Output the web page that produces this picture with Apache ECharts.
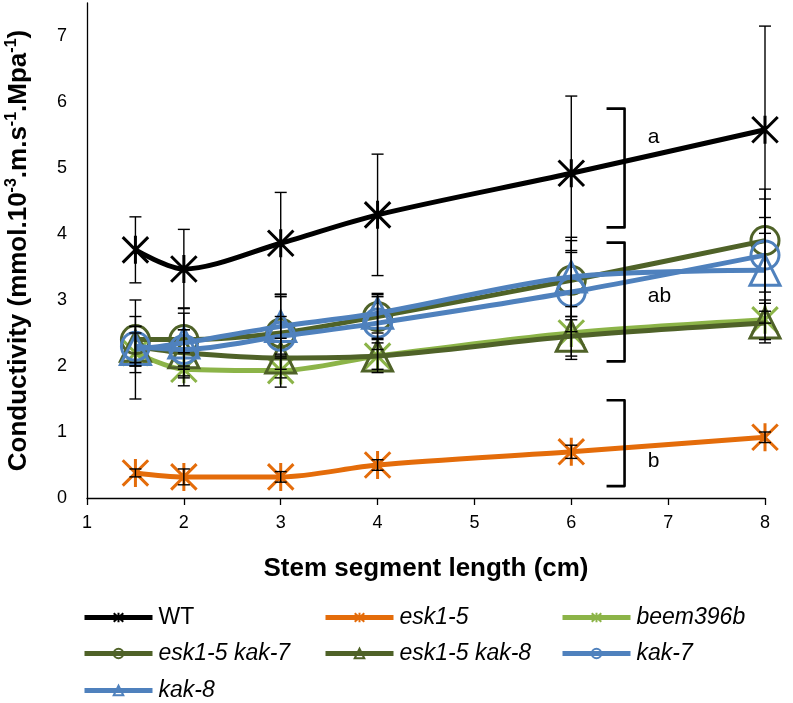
<!DOCTYPE html>
<html>
<head>
<meta charset="utf-8">
<script src="https://cdn.jsdelivr.net/npm/echarts@6/dist/echarts.min.js"></script>
<style>
html,body{margin:0;padding:0;background:#fff;}
#chart{width:793px;height:703px;}
</style>
</head>
<body>
<div id="chart"></div>
<script>
// ---- data ----
const segLengths = [1.5, 2, 3, 4, 6, 8];
const seriesNames = ['WT', 'esk1-5', 'beem396b', 'esk1-5 kak-7', 'esk1-5 kak-8', 'kak-7', 'kak-8'];
const wtMean   = [3.76, 3.47, 3.86, 4.29, 4.92, 5.58];
const wtErr    = [0.50, 0.60, 0.77, 0.92, 1.17, 1.57];
const esk15Mean = [0.38, 0.32, 0.32, 0.50, 0.70, 0.92];
const esk15Err  = [0.06, 0.12, 0.08, 0.08, 0.10, 0.08];
const beemMean = [2.20, 1.95, 1.93, 2.15, 2.50, 2.70];
const beemErr  = [0.30, 0.25, 0.25, 0.25, 0.40, 0.30];
const ek7Mean  = [2.40, 2.40, 2.50, 2.75, 3.30, 3.90];
const ek7Err   = [0.35, 0.40, 0.55, 0.33, 0.60, 0.78];
const ek8Mean  = [2.30, 2.20, 2.12, 2.15, 2.45, 2.65];
const ek8Err   = [0.30, 0.35, 0.30, 0.20, 0.30, 0.30];
const k7Mean   = [2.30, 2.25, 2.45, 2.65, 3.12, 3.68];
const k7Err    = [0.30, 0.30, 0.30, 0.40, 0.60, 0.85];
const k8Mean   = [2.25, 2.35, 2.60, 2.80, 3.35, 3.45];
const k8Err    = [0.75, 0.53, 0.48, 0.30, 0.60, 0.80];
const xTicks = [1, 2, 3, 4, 5, 6, 7, 8];
const yTicks = [0, 1, 2, 3, 4, 5, 6, 7];
// significance brackets: [x, yLow, yHigh], labels [x, y, text]
const bracketX = 6.55;
const brackets = [[bracketX, 4.10, 5.90], [bracketX, 2.07, 3.87], [bracketX, 0.18, 1.48]];
const bracketLabels = [[6.79, 5.47, 'a'], [6.79, 3.05, 'ab'], [6.79, 0.55, 'b']];
// legend layout: [name, column, row]
const legendCells = [
  ['WT', 0, 0], ['esk1-5', 1, 0], ['beem396b', 2, 0],
  ['esk1-5 kak-7', 0, 1], ['esk1-5 kak-8', 1, 1], ['kak-7', 2, 1],
  ['kak-8', 0, 2]
];

// ---- styling ----
const FONT = 'Liberation Sans';
const starPath = 'path://M0 0L20 20M20 0L0 20M10 -1L10 21';
const styles = {
  'WT':           {color: '#000000', symbol: starPath, size: 28},
  'esk1-5':       {color: '#E46C0A', symbol: starPath, size: 28},
  'beem396b':     {color: '#8CB448', symbol: starPath, size: 28},
  'esk1-5 kak-7': {color: '#4F6228', symbol: 'circle', size: 28},
  'esk1-5 kak-8': {color: '#4F6228', symbol: 'triangle', size: 30},
  'kak-7':        {color: '#4F81BD', symbol: 'circle', size: 28},
  'kak-8':        {color: '#4F81BD', symbol: 'triangle', size: 30}
};
const means = [wtMean, esk15Mean, beemMean, ek7Mean, ek8Mean, k7Mean, k8Mean];
const errs  = [wtErr, esk15Err, beemErr, ek7Err, ek8Err, k7Err, k8Err];
const legendColLeft = [82, 323, 560];
const legendRowTop = [606, 642, 679];

const chart = echarts.init(document.getElementById('chart'), null, {renderer: 'canvas'});

const lineSeries = seriesNames.map((name, i) => {
  const st = styles[name];
  return {
    name: name,
    type: 'line',
    smooth: 0.3,
    z: 3 + i,
    symbol: st.symbol,
    symbolSize: st.size,
    symbolKeepAspect: true,
    data: segLengths.map((x, j) => [x, means[i][j]]),
    lineStyle: {color: st.color, width: 5},
    itemStyle: {color: 'rgba(255,255,255,0)', borderColor: st.color, borderWidth: 3},
    emphasis: {disabled: true}
  };
});

const errSeries = seriesNames.map((name, i) => ({
  name: name + ' err',
  type: 'custom',
  z: 20,
  silent: true,
  data: segLengths.map((x, j) => [x, means[i][j] - errs[i][j], means[i][j] + errs[i][j]]),
  encode: {x: 0, y: [1, 2]},
  renderItem: function (params, api) {
    const x = api.value(0);
    const lo = api.coord([x, api.value(1)]);
    const hi = api.coord([x, api.value(2)]);
    const hw = 6;
    const style = {stroke: '#000', lineWidth: 1.4};
    return {
      type: 'group',
      children: [
        {type: 'line', shape: {x1: lo[0], y1: lo[1], x2: hi[0], y2: hi[1]}, style: style},
        {type: 'line', shape: {x1: lo[0] - hw, y1: lo[1], x2: lo[0] + hw, y2: lo[1]}, style: style},
        {type: 'line', shape: {x1: hi[0] - hw, y1: hi[1], x2: hi[0] + hw, y2: hi[1]}, style: style}
      ]
    };
  }
}));

const bracketSeries = {
  type: 'custom',
  z: 30,
  silent: true,
  data: brackets,
  encode: {x: 0, y: [1, 2]},
  renderItem: function (params, api) {
    const lo = api.coord([api.value(0), api.value(1)]);
    const hi = api.coord([api.value(0), api.value(2)]);
    const arm = 18;
    return {
      type: 'polyline',
      shape: {points: [[lo[0] - arm, hi[1]], [lo[0], hi[1]], [lo[0], lo[1]], [lo[0] - arm, lo[1]]]},
      style: {stroke: '#000', lineWidth: 2.6, fill: null, lineJoin: 'round'}
    };
  }
};

const bracketLabelSeries = {
  type: 'custom',
  z: 30,
  silent: true,
  data: bracketLabels,
  encode: {x: 0, y: 1},
  renderItem: function (params, api) {
    const p = api.coord([api.value(0), api.value(1)]);
    return {
      type: 'text',
      x: p[0], y: p[1],
      style: {text: api.value(2), fill: '#000', font: '21px "' + FONT + '"', textAlign: 'left', textVerticalAlign: 'middle'}
    };
  }
};

const richLegend = {
  n: {fontFamily: FONT, fontSize: 23, color: '#000', lineHeight: 24},
  i: {fontFamily: FONT, fontSize: 23, color: '#000', fontStyle: 'italic', lineHeight: 24}
};
const legends = legendCells.map(cell => ({
  orient: 'horizontal',
  left: legendColLeft[cell[1]],
  top: legendRowTop[cell[2]],
  padding: 0,
  itemGap: 0,
  itemWidth: 68,
  itemHeight: 12,
  data: [cell[0]],
  selectedMode: false,
  lineStyle: {width: 5},
  itemStyle: {borderWidth: 2},
  formatter: function (name) { return name === 'WT' ? '{n|' + name + '}' : '{i|' + name + '}'; },
  textStyle: {rich: richLegend, padding: [0, 0, 0, 1]}
}));

const option = {
  animation: false,
  backgroundColor: '#fff',
  textStyle: {fontFamily: FONT},
  grid: {left: 87, right: 28, top: 3, bottom: 205, containLabel: false, outerBoundsMode: 'none'},
  legend: legends,
  xAxis: {
    type: 'value',
    min: xTicks[0],
    max: xTicks[xTicks.length - 1],
    interval: 1,
    splitLine: {show: false},
    axisLine: {lineStyle: {color: '#000', width: 1.3}},
    axisTick: {show: true, inside: false, length: 7, lineStyle: {color: '#000', width: 1.3}},
    axisLabel: {fontFamily: FONT, fontSize: 18, color: '#000', margin: 16},
    name: 'Stem segment length (cm)',
    nameLocation: 'middle',
    nameGap: 58,
    nameTextStyle: {fontFamily: FONT, fontSize: 26, fontWeight: 'bold', color: '#000'}
  },
  yAxis: {
    type: 'value',
    min: yTicks[0],
    max: 7.5,
    interval: 1,
    splitLine: {show: false},
    axisLine: {show: true, lineStyle: {color: '#000', width: 1.3}},
    axisTick: {show: false},
    axisLabel: {fontFamily: FONT, fontSize: 18, color: '#000', margin: 20, showMaxLabel: false,
      formatter: function (v) { return yTicks.indexOf(v) >= 0 ? String(v) : ''; }},
    name: '{b|Conductivity (mmol.10}{s|-3}{b|.m.s}{s|-1}{b|.Mpa}{s|-1}{b|)}',
    nameLocation: 'middle',
    nameGap: 53,
    nameRotate: 90,
    nameTextStyle: {
      rich: {
        b: {fontFamily: FONT, fontSize: 26, fontWeight: 'bold', color: '#000', lineHeight: 30},
        s: {fontFamily: FONT, fontSize: 16, fontWeight: 'bold', color: '#000', verticalAlign: 'top', lineHeight: 16}
      }
    }
  },
  series: lineSeries.concat(errSeries, [bracketSeries, bracketLabelSeries])
};
chart.setOption(option);
</script>
</body>
</html>
